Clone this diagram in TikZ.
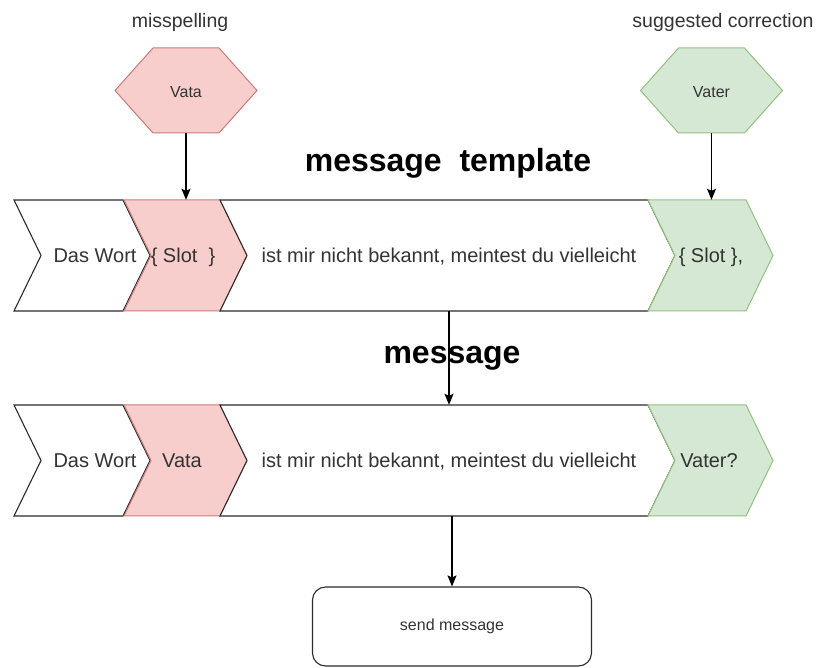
\documentclass[tikz,border=0pt]{standalone}
\usepackage{fontspec}
\setmainfont{Liberation Sans}
\usetikzlibrary{arrows.meta}

\definecolor{pinkfill}{HTML}{F8CECC}
\definecolor{pinkline}{HTML}{C97B78}
\definecolor{greenfill}{HTML}{D5E8D4}
\definecolor{greenline}{HTML}{94BF7E}
\definecolor{txtgray}{HTML}{333333}
\definecolor{edgegray}{HTML}{2B2B2B}

% chevron step: left x, right-tip x, top y, bottom y
\newcommand{\chevstep}[5][]{%
  \draw[#1] (#2,#4) -- ({#3-27},#4) -- (#3,{(#4+#5)/2}) -- ({#3-27},#5)
    -- (#2,#5) -- ({#2+27},{(#4+#5)/2}) -- cycle;}

\tikzset{
  plainstep/.style={draw=edgegray, fill=white, line width=1.1pt, line join=miter},
  redstep/.style={draw=pinkline, fill=pinkfill, line width=1pt},
  greenstep/.style={draw=greenline, fill=greenfill, line width=1pt},
  steptext/.style={anchor=base, inner sep=0pt, text=txtgray, font=\fontsize{20}{24}\selectfont},
  toplabel/.style={anchor=base, inner sep=0pt, text=txtgray, font=\fontsize{19.5}{23}\selectfont},
  hexbox/.style={minimum width=142pt, minimum height=85pt, inner sep=0pt},
  hextext/.style={anchor=base, inner sep=0pt, text=txtgray, font=\fontsize{16}{19}\selectfont},
  rowbox/.style={minimum width=759pt, minimum height=111pt, inner sep=0pt},
  heading/.style={anchor=base, inner sep=0pt, font=\bfseries\fontsize{32}{38}\selectfont},
  sendbox/.style={draw=edgegray, line width=1.1pt, rounded corners=13pt, minimum width=279pt,
    minimum height=79pt, inner sep=0pt},
  conn/.style={draw=black, line width=1.1pt, -{Stealth[length=11pt, width=9pt, inset=2pt]}}
}

\begin{document}
\begin{tikzpicture}[x=1pt, y=-1pt]
\useasboundingbox (0,0) rectangle (823,668);

% hexagons
\draw[redstep] (115,90.5) -- (153,48) -- (219,48) -- (257,90.5) -- (219,133) -- (153,133) -- cycle;
\draw[greenstep] (640.5,90.5) -- (678.5,48) -- (744.5,48) -- (782.5,90.5) -- (744.5,133) -- (678.5,133) -- cycle;

% template row
\chevstep[plainstep]{14}{150}{200}{311}
\chevstep[redstep]{124}{247}{200}{311}
\chevstep[plainstep]{220}{675}{200}{311}
\chevstep[greenstep]{648}{773}{200}{311}

% message row
\chevstep[plainstep]{14}{150}{405}{516}
\chevstep[redstep]{124}{247}{405}{516}
\chevstep[plainstep]{220}{675}{405}{516}
\chevstep[greenstep]{648}{773}{405}{516}

% outline nodes used by the connectors
\node[hexbox] (hexMis) at (186,90.5) {};
\node[hexbox] (hexCor) at (711.5,90.5) {};
\node[rowbox] (tplRow) at (393.5,255.5) {};
\node[rowbox] (msgRow) at (393.5,460.5) {};

% labels
\node[toplabel] (lblMis) at (180,28) {misspelling};
\node[toplabel] (lblCor) at (723,28) {suggested correction};
\node[hextext] (txtMis) at (186,98) {Vata};
\node[hextext] (txtCor) at (711.5,98) {Vater};

\node[heading] (ttlTpl) at (448,172) {message\ \ template};
\node[heading] (ttlMsg) at (452,364) {message};

\node[steptext] (tplA) at (95,263) {Das Wort};
\node[steptext] (tplB) at (183,263) {\{ Slot\ \ \}};
\node[steptext] (tplC) at (449,263) {ist mir nicht bekannt, meintest du vielleicht};
\node[steptext] (tplD) at (711,263) {\{ Slot \},};

\node[steptext] (msgA) at (95,468) {Das Wort};
\node[steptext] (msgB) at (182,468) {Vata};
\node[steptext] (msgC) at (449,468) {ist mir nicht bekannt, meintest du vielleicht};
\node[steptext] (msgD) at (709,468) {Vater?};

\node[sendbox, text=txtgray, font=\fontsize{16}{19}\selectfont] (send) at (452,626.5) {send message};

% connectors
\draw[conn] (hexMis.south) -- (hexMis.south |- tplRow.north);
\draw[conn] (hexCor.south) -- (hexCor.south |- tplRow.north);
\draw[conn] (tplC.base |- tplRow.south) -- (tplC.base |- msgRow.north);
\draw[conn] (send.north |- msgRow.south) -- (send.north);
\end{tikzpicture}
\end{document}
